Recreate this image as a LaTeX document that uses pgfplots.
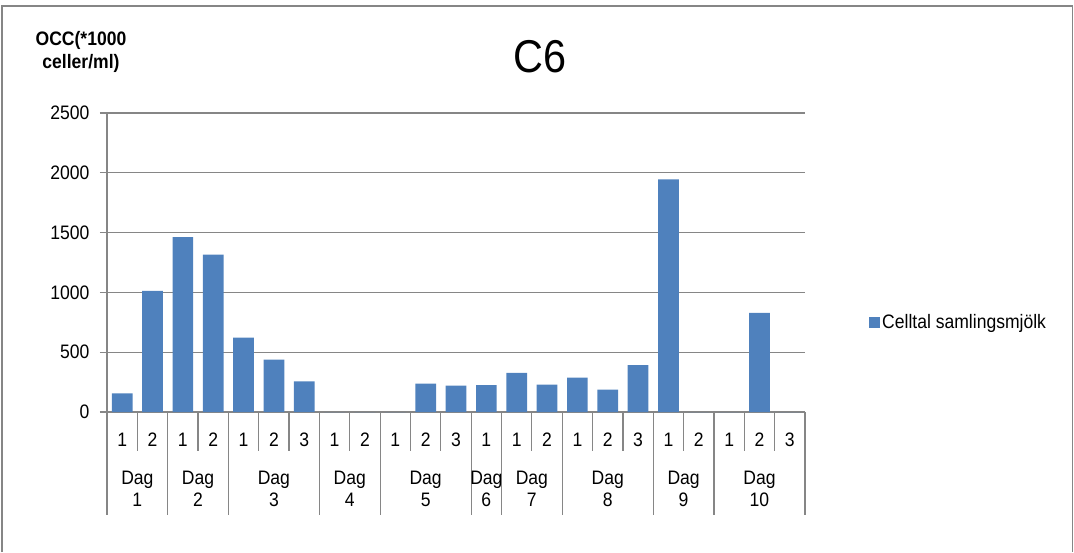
\documentclass[border=0pt]{standalone}
\usepackage{fontspec}
\setmainfont[FakeStretch=0.9]{Liberation Sans}
\usepackage{pgfplots}
\pgfplotsset{compat=1.18}
\definecolor{barblue}{HTML}{4F81BD}
\definecolor{rulegray}{HTML}{868686}

\begin{document}
\begin{tikzpicture}[x=1pt, y=1pt, font=\fontsize{19.5}{22}\selectfont]
\useasboundingbox (0,0) rectangle (1074,552);
% chart frame (open at the bottom edge)
\draw[rulegray, line width=1.4pt] (2,0) -- (2,546) -- (1072.5,546) -- (1072.5,0);
% title and value-axis caption
\node[font=\fontsize{46}{52}\selectfont] at (540,495.5) {C6};
\node[font=\bfseries\fontsize{19.5}{23}\selectfont, align=center] at (81,500) {OCC(*1000\\celler/ml)};

\begin{axis}[
  at={(107pt,140pt)}, anchor=south west,
  scale only axis, width=698pt, height=299pt,
  ybar, bar width=20.7pt,
  xmin=-0.5, xmax=22.5, ymin=0, ymax=2500,
  xtick={0,...,22},
  xticklabels={1,2,1,2,1,2,3,1,2,1,2,3,1,1,2,1,2,3,1,2,1,2,3},
  xtick style={draw=none},
  xticklabel style={anchor=center, yshift=-21pt},
  ytick={0,500,1000,1500,2000,2500},
  yticklabels={0,500,1000,1500,2000,2500},
  yticklabel style={xshift=-7pt},
  ytick pos=left, tick align=outside, major tick length=7pt,
  ytick style={rulegray, line width=1.2pt},
  ymajorgrids, grid style={rulegray, line width=1.2pt},
  axis line style={draw=none},
  clip=false,
  legend style={at={(1,0.3)}, anchor=west, xshift=61pt, draw=none, fill=none,
    font=\fontsize{19.5}{22}\selectfont},
  legend image code/.code={\fill[barblue] (0pt,-5.5pt) rectangle (11pt,5.5pt);},
]
\addplot[fill=barblue, draw=none] coordinates {
  (0,155) (1,1012) (2,1462) (3,1315)
  (4,622) (5,437) (6,256)
  (7,0) (8,0)
  (9,0) (10,237) (11,220)
  (12,225)
  (13,328) (14,228)
  (15,287) (16,187) (17,392)
  (18,1945) (19,0)
  (20,0) (21,828) (22,0)
};
\addlegendentry{Celltal samlingsmjölk}

% value axis line, running down through the category table
\draw[rulegray, line width=1.2pt] (axis cs:-0.5,2500) -- (axis cs:-0.5,0) -- ++(0pt,-103pt);
% separators between samples within a day
\pgfplotsinvokeforeach{0.5,2.5,4.5,5.5,7.5,9.5,10.5,13.5,15.5,16.5,18.5,20.5,21.5}{
  \draw[rulegray, line width=1.2pt] (axis cs:#1,0) -- ++(0pt,-39pt);
}
% separators between days
\pgfplotsinvokeforeach{1.5,3.5,6.5,8.5,11.5,12.5,14.5,17.5,19.5,22.5}{
  \draw[rulegray, line width=1.2pt] (axis cs:#1,0) -- ++(0pt,-103pt);
}
% day labels
\node[align=center, yshift=-77pt] at (axis cs:0.5,0) {Dag\\1};
\node[align=center, yshift=-77pt] at (axis cs:2.5,0) {Dag\\2};
\node[align=center, yshift=-77pt] at (axis cs:5,0) {Dag\\3};
\node[align=center, yshift=-77pt] at (axis cs:7.5,0) {Dag\\4};
\node[align=center, yshift=-77pt] at (axis cs:10,0) {Dag\\5};
\node[align=center, yshift=-77pt] at (axis cs:12,0) {Dag\\6};
\node[align=center, yshift=-77pt] at (axis cs:13.5,0) {Dag\\7};
\node[align=center, yshift=-77pt] at (axis cs:16,0) {Dag\\8};
\node[align=center, yshift=-77pt] at (axis cs:18.5,0) {Dag\\9};
\node[align=center, yshift=-77pt] at (axis cs:21,0) {Dag\\10};
\end{axis}
\end{tikzpicture}
\end{document}
